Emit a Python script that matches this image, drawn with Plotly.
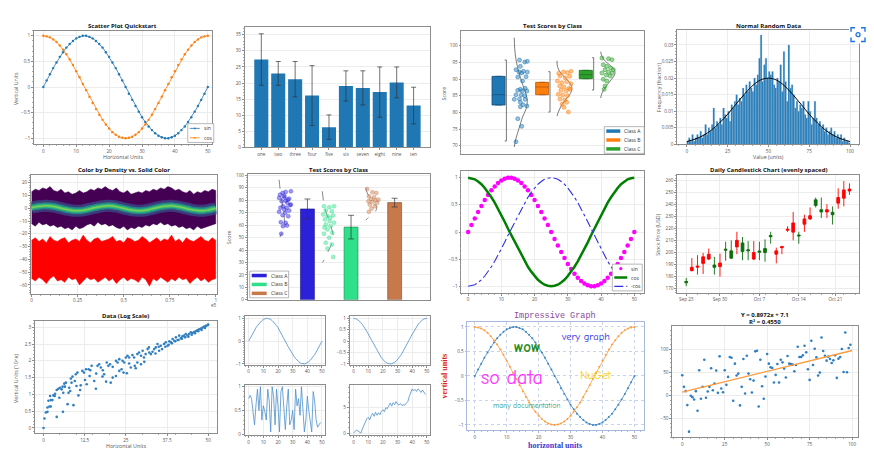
import plotly.graph_objects as go

W, H = 874, 466
FONT = "Open Sans"
BLUE = "#1f77b4"
ORANGE = "#ff7f0e"
GREEN = "#2ca02c"

# ---------------- data ----------------
X51 = list(range(51))
SIN = [0, 0.13, 0.25, 0.37, 0.48, 0.59, 0.68, 0.77, 0.84, 0.9, 0.95, 0.98, 1.0,
       1.0, 0.98, 0.95, 0.9, 0.84, 0.77, 0.68, 0.59, 0.48, 0.37, 0.25, 0.13, 0,
       -0.13, -0.25, -0.37, -0.48, -0.59, -0.68, -0.77, -0.84, -0.9, -0.95, -0.98, -1.0,
       -1.0, -0.98, -0.95, -0.9, -0.84, -0.77, -0.68, -0.59, -0.48, -0.37, -0.25, -0.13, 0]
COS = [1, 0.99, 0.97, 0.93, 0.88, 0.81, 0.73, 0.64, 0.54, 0.43, 0.31, 0.19, 0.06,
       -0.06, -0.19, -0.31, -0.43, -0.54, -0.64, -0.73, -0.81, -0.88, -0.93, -0.97, -0.99, -1,
       -0.99, -0.97, -0.93, -0.88, -0.81, -0.73, -0.64, -0.54, -0.43, -0.31, -0.19, -0.06,
       0.06, 0.19, 0.31, 0.43, 0.54, 0.64, 0.73, 0.81, 0.88, 0.93, 0.97, 0.99, 1]
NEG_COS = [-1, -0.99, -0.97, -0.93, -0.88, -0.81, -0.73, -0.64, -0.54, -0.43, -0.31, -0.19, -0.06,
           0.06, 0.19, 0.31, 0.43, 0.54, 0.64, 0.73, 0.81, 0.88, 0.93, 0.97, 0.99, 1,
           0.99, 0.97, 0.93, 0.88, 0.81, 0.73, 0.64, 0.54, 0.43, 0.31, 0.19, 0.06,
           -0.06, -0.19, -0.31, -0.43, -0.54, -0.64, -0.73, -0.81, -0.88, -0.93, -0.97, -0.99, -1]

BAR_NAMES = ["one", "two", "three", "four", "five", "six", "seven", "eight", "nine", "ten"]
BAR_VALUES = [27.3, 23.0, 21.2, 16.1, 6.3, 19.1, 18.5, 17.2, 20.2, 13.0]
BAR_ERRORS = [8.0, 3.7, 5.5, 9.3, 3.8, 4.7, 5.3, 7.8, 4.8, 5.7]

CLASS_NAMES = ["Class A", "Class B", "Class C"]
BOX_Q1 = [82.2, 85.3, 90.1]
BOX_MEDIAN = [85.3, 87.6, 91.3]
BOX_Q3 = [90.8, 89.0, 92.6]
BOX_LOW = [71.4, 80.1, 86.7]
BOX_HIGH = [95.7, 92.2, 96.4]

S3A_X = [0.48, 0.60, 0.66, 0.50, 0.40, 0.57, 0.66, 0.47, 0.53, 0.63, 0.44, 0.55, 0.50, 0.61, 0.44,
         0.54, 0.65, 0.40, 0.52, 0.60, 0.36, 0.48, 0.61, 0.50, 0.56, 0.65, 0.50, 0.44, 0.53, 0.40]
S3A_Y = [95.7, 95.1, 95.3, 93.8, 92.8, 92.3, 92.1, 92.1, 91.8, 90.7, 90.6, 89.4, 86.9, 87.2, 86.6,
         86.4, 86.4, 85.3, 85.2, 85.0, 83.9, 84.0, 83.9, 83.0, 82.3, 81.9, 81.7, 78.1, 75.8, 71.2]
S3B_X = [1.38, 1.49, 1.58, 1.66, 1.41, 1.53, 1.63, 1.35, 1.45, 1.56, 1.66, 1.40, 1.50, 1.61, 1.43,
         1.55, 1.64, 1.37, 1.47, 1.58, 1.41, 1.52, 1.46, 1.56, 1.50, 1.60]
S3B_Y = [91.7, 92.1, 91.9, 92.3, 90.9, 90.4, 90.8, 89.4, 88.9, 89.2, 88.6, 87.9, 87.6, 87.2, 86.6,
         86.4, 86.9, 85.4, 85.2, 85.0, 84.0, 83.7, 82.5, 83.0, 81.5, 80.1]
S3C_X = [2.37, 2.52, 2.60, 2.40, 2.48, 2.57, 2.63, 2.44, 2.52, 2.37, 2.60, 2.47, 2.56, 2.40, 2.48,
         2.44, 2.42]
S3C_Y = [96.3, 96.1, 95.8, 94.3, 93.8, 93.3, 92.8, 92.8, 92.1, 91.8, 91.8, 91.2, 90.9, 89.9, 89.4,
         87.9, 86.9]
C3A_X = [0.36, 0.37, 0.40, 0.47, 0.55, 0.63, 0.66, 0.63, 0.55, 0.47, 0.40, 0.36]
C3A_Y = [102.4, 99.2, 95.8, 91.8, 88.4, 85.4, 83.5, 81.0, 78.6, 75.2, 72.2, 69.6]
C3B_X = [1.34, 1.35, 1.40, 1.49, 1.60, 1.68, 1.66, 1.57, 1.46, 1.39, 1.34]
C3B_Y = [95.5, 93.8, 92.3, 90.9, 89.4, 87.6, 86.0, 84.3, 82.5, 80.7, 78.9]
C3C_X = [2.34, 2.37, 2.45, 2.56, 2.65, 2.67, 2.63, 2.54, 2.44, 2.37, 2.34]
C3C_Y = [98.2, 96.8, 95.3, 94.1, 92.8, 91.8, 90.6, 89.1, 87.4, 85.7, 84.3]

HIST_BINS = list(range(100))
HIST_FRAC = [0.001, 0.002, 0.001, 0.003, 0.001, 0.002, 0.003, 0.002, 0.004, 0.002,
             0.003, 0.006, 0.003, 0.005, 0.004, 0.006, 0.011, 0.005, 0.007, 0.006,
             0.008, 0.006, 0.011, 0.009, 0.008, 0.010, 0.007, 0.012, 0.011, 0.013,
             0.015, 0.012, 0.014, 0.013, 0.017, 0.015, 0.018, 0.016, 0.019, 0.017,
             0.016, 0.020, 0.018, 0.021, 0.026, 0.033, 0.019, 0.024, 0.026, 0.020,
             0.022, 0.021, 0.022, 0.018, 0.017, 0.020, 0.019, 0.024, 0.016, 0.028,
             0.019, 0.013, 0.030, 0.017, 0.018, 0.015, 0.011, 0.013, 0.010, 0.012,
             0.011, 0.013, 0.009, 0.008, 0.013, 0.010, 0.006, 0.008, 0.013, 0.008,
             0.006, 0.007, 0.005, 0.006, 0.004, 0.005, 0.003, 0.004, 0.005, 0.003,
             0.004, 0.002, 0.003, 0.002, 0.003, 0.001, 0.002, 0.001, 0.001, 0.0005]
FIT_X = list(range(0, 101, 5))
FIT_Y = [0.00088, 0.0016, 0.0027, 0.0043, 0.0065, 0.0091, 0.0121, 0.0150, 0.0176, 0.0194, 0.0200,
         0.0194, 0.0176, 0.0150, 0.0121, 0.0091, 0.0065, 0.0043, 0.0027, 0.0016, 0.00088]

DENS_X = list(range(0, 100001, 2000))
CENTER = [0.5, 1.1, 1.6, 1.9, 2.0, 1.8, 1.4, 0.8, 0.1, -0.6, -1.2, -1.7, -2.0, -1.9, -1.6, -1.0, -0.3,
          0.4, 1.0, 1.5, 1.9, 2.0, 1.8, 1.3, 0.7, 0.0, -0.7, -1.3, -1.7, -2.0, -1.9, -1.5, -0.9, -0.2,
          0.5, 1.1, 1.6, 1.9, 2.0, 1.7, 1.2, 0.6, -0.1, -0.8, -1.4, -1.8, -2.0, -1.8, -1.3, -0.7, 0.0]
PURPLE_TOP = [13, 15, 14, 16, 15, 17, 14, 13, 15, 12, 13, 11, 12, 14, 12, 13, 15, 14, 16, 15, 17, 15,
              14, 16, 13, 12, 14, 11, 12, 13, 12, 14, 13, 15, 14, 16, 15, 17, 16, 14, 15, 13, 12, 14,
              11, 13, 12, 14, 13, 15, 14]
PURPLE_BOT = [-12, -14, -11, -13, -12, -14, -13, -15, -14, -16, -15, -17, -14, -16, -15, -13, -12, -14,
              -11, -13, -12, -14, -13, -15, -16, -14, -17, -15, -16, -14, -15, -13, -14, -12, -13, -11,
              -13, -12, -14, -13, -15, -14, -16, -15, -17, -14, -16, -15, -14, -13, -12]
RED_TOP = [-25, -23, -26, -24, -27, -22, -25, -26, -24, -23, -27, -25, -24, -26, -21, -25, -27, -24,
           -23, -26, -25, -24, -22, -26, -25, -27, -23, -24, -26, -25, -22, -24, -27, -25, -23, -26,
           -24, -25, -21, -26, -24, -27, -23, -25, -26, -24, -22, -25, -26, -23, -25]
RED_BOT = [-55, -57, -54, -56, -59, -55, -53, -57, -56, -58, -54, -56, -55, -60, -57, -54, -56, -55,
           -58, -56, -54, -57, -55, -59, -56, -54, -57, -55, -56, -58, -54, -56, -61, -55, -57, -54,
           -56, -58, -55, -57, -54, -56, -55, -59, -56, -54, -57, -55, -58, -56, -55]

BAR6_VALUES = [73.0, 58.4, 78.1]
BAR6_ERRORS = [8.0, 9.5, 3.5]
S6A_X = [0.37, 0.43, 0.50, 0.62, 0.35, 0.47, 0.58, 0.41, 0.54, 0.62, 0.44, 0.35, 0.52, 0.58, 0.49,
         0.43, 0.56, 0.39, 0.50, 0.44, 0.53, 0.40, 0.47, 0.55, 0.38, 0.47, 0.60, 0.50]
S6A_Y = [84.5, 85.9, 86.7, 87.2, 81.9, 82.4, 81.3, 79.2, 77.9, 76.5, 75.2, 70.7, 73.9, 71.7, 69.9,
         68.0, 67.2, 62.4, 61.9, 59.2, 59.7, 53.1, 83.5, 80.5, 74.0, 72.5, 76.0, 79.5]
S6B_X = [1.38, 1.50, 1.61, 1.42, 1.56, 1.36, 1.46, 1.59, 1.40, 1.51, 1.61, 1.42, 1.53, 1.46, 1.57,
         1.38, 1.50, 1.42, 1.56, 1.46, 1.59, 1.52, 1.39]
S6B_Y = [75.2, 74.4, 75.2, 71.7, 71.2, 68.5, 67.2, 67.7, 64.5, 63.2, 61.9, 60.5, 59.2, 56.5, 53.9,
         53.1, 49.9, 45.9, 44.5, 41.3, 34.4, 66.0, 58.0]
S6C_X = [2.37, 2.49, 2.58, 2.41, 2.53, 2.63, 2.40, 2.49, 2.60, 2.43, 2.55, 2.47, 2.41, 2.56, 2.46]
S6C_Y = [89.0, 86.4, 85.9, 83.2, 82.4, 80.5, 79.2, 78.7, 77.9, 76.5, 75.2, 73.3, 70.7, 80.0, 81.0]
C6A_X = [0.35, 0.37, 0.40, 0.44, 0.47, 0.46, 0.41, 0.37]
C6A_Y = [96.5, 89.9, 81.9, 73.9, 65.9, 59.2, 53.9, 50.4]
C6B_X = [1.34, 1.37, 1.42, 1.50, 1.56, 1.59, 1.55, 1.46, 1.39, 1.34]
C6B_Y = [87.2, 79.2, 71.2, 63.2, 56.5, 51.2, 44.5, 37.9, 32.5, 29.9]
C6C_X = [2.34, 2.37, 2.44, 2.51, 2.59, 2.56, 2.47, 2.39, 2.34]
C6C_Y = [89.9, 85.9, 81.9, 77.9, 74.4, 71.2, 68.5, 65.9, 64.0]

CANDLE_DAYS = list(range(30))
CANDLE_OPEN = [174.4, 187.4, 188.5, 196.2, 198.4, 187.4, 191.0, 201.7, 195.1, 210.0,
               200.6, 201.2, 199.8, 200.0, 199.8, 213.0, 201.2, 204.8, 219.4, 224.6,
               213.6, 228.0, 230.7, 239.3, 233.8, 235.7, 231.5, 245.9, 252.3, 253.0]
CANDLE_HIGH = [178.5, 195.1, 197.6, 199.5, 203.1, 196.2, 198.9, 208.9, 210.0, 217.2,
               212.8, 209.4, 209.4, 208.9, 210.8, 217.2, 203.9, 205.4, 221.9, 233.8,
               217.2, 231.5, 237.6, 245.9, 245.9, 240.4, 238.5, 253.6, 259.7, 257.8]
CANDLE_LOW = [171.6, 184.0, 181.3, 181.8, 193.4, 181.3, 179.6, 192.9, 194.3, 198.4,
              193.4, 193.4, 193.4, 193.4, 192.1, 207.2, 190.7, 198.4, 217.2, 210.0,
              207.2, 217.2, 227.0, 237.6, 228.8, 228.8, 223.3, 236.5, 238.5, 248.1]
CANDLE_CLOSE = [175.5, 184.6, 187.6, 190.7, 194.3, 189.3, 188.0, 202.5, 201.2, 204.5,
                207.8, 202.0, 194.3, 201.0, 203.1, 214.0, 198.4, 203.9, 218.6, 216.9,
                214.3, 223.5, 228.0, 244.0, 235.7, 233.8, 233.5, 241.2, 245.4, 251.4]
CANDLE_TICKS = [0, 6, 13, 20, 26.5]
CANDLE_LABELS = ["Sep 23", "Sep 30", "Oct 7", "Oct 14", "Oct 21"]

LOG_X = [0, 0.3, 0.7, 1.2, 1.2, 1.8, 2.2, 1.5, 2.2, 2.7, 2.0, 3.0, 3.4, 4.0, 4.0, 4.5, 5.0, 5.5,
         4.8, 5.9, 5.8, 6.3, 6.8, 6.5, 7.3, 7.8, 8.1, 7.6, 8.3, 8.8, 8.5, 9.1, 9.8, 10.3, 9.5, 10.6,
         11.1, 11.3, 11.8, 12.3, 12.9, 12.6, 13.1, 13.7, 14.2, 14.6, 15.4, 15.9, 16.4, 16.9, 17.4,
         17.9, 18.4, 19.2, 19.7, 20.2, 20.4, 21.0, 22.0, 22.5, 23.0, 23.0, 23.7, 24.3, 25.0, 25.5,
         24.5, 25.3, 26.0, 27.0, 27.5, 26.5, 27.7, 28.5, 29.0, 29.6, 30.1, 29.6, 30.6, 31.6, 32.1,
         32.6, 33.1, 33.6, 34.1, 34.6, 35.1, 35.6, 36.6, 37.1, 37.7, 38.2, 38.7, 39.2, 39.7, 40.2,
         40.7, 41.2, 41.7, 42.2, 42.7, 43.2, 43.7, 44.2, 44.7, 45.2, 45.7, 46.3, 46.8, 47.3, 47.8,
         48.3, 48.8, 49.3, 49.8, 31.0, 32.0, 34.0, 35.0, 36.0, 37.0, 38.0, 39.0, 40.0, 41.0, 42.0,
         43.0, 44.0, 45.0, 46.0, 47.0, 48.0, 49.0, 50.0, 18.0, 21.0, 22.0, 26.0, 28.0, 14.0, 16.0,
         19.0, 24.0, 28.5, 30.5, 10.0, 6.0, 3.5]
LOG_Y = [0, 0.28, 0.46, 0.48, 0.61, 0.64, 0.64, 0.81, 0.83, 0.83, 0.95, 0.97, 0.95, 0.33, 1.13, 1.17,
         1.20, 1.15, 0.90, 0.48, 1.23, 1.32, 1.35, 1.23, 0.71, 1.20, 1.10, 1.05, 1.47, 1.53, 1.35, 0.68,
         1.60, 1.65, 1.40, 0.97, 1.13, 1.27, 1.70, 1.65, 1.75, 1.43, 1.30, 1.75, 1.72, 1.85, 1.40, 1.17,
         1.85, 1.90, 1.80, 1.53, 1.60, 1.95, 1.85, 1.90, 1.35, 1.50, 2.00, 1.95, 2.05, 1.70, 1.75, 1.65,
         2.10, 2.15, 1.95, 1.63, 2.10, 2.17, 2.10, 1.80, 1.85, 1.95, 2.25, 2.15, 2.30, 1.90, 1.97, 2.35,
         2.25, 2.20, 2.27, 2.35, 2.40, 2.50, 2.30, 2.45, 2.50, 2.55, 2.45, 2.58, 2.55, 2.65, 2.60, 2.70,
         2.62, 2.75, 2.67, 2.73, 2.75, 2.80, 2.75, 2.80, 2.85, 2.83, 2.86, 2.89, 2.92, 2.94, 2.96, 2.99,
         3.02, 3.04, 3.06, 2.20, 2.40, 2.22, 2.42, 2.35, 2.42, 2.48, 2.52, 2.58, 2.62, 2.66, 2.70, 2.72,
         2.78, 2.82, 2.88, 2.92, 2.98, 3.08, 1.72, 1.82, 1.55, 1.92, 1.78, 1.55, 1.62, 1.38, 2.00, 2.20,
         2.10, 1.25, 1.05, 1.02]

X50 = list(range(50))
RAND = [0.75, 0.82, 0.74, 0.4, 0.2, 0.62, 0.95, 0.5, 1.0, 0.3, 0.6, 0.48, 0.3, 0.95, 0.7, 0.05, 1.0,
        0.8, 0.2, 0.95, 0.6, 0.05, 0.9, 1.0, 0.4, 0.1, 0.6, 0.95, 0.2, 0.3, 0.5, 0.1, 0.95, 0.6, 0.75,
        0.4, 1.0, 0.6, 0.05, 0.3, 0.8, 0.5, 0.3, 0.05, 0.9, 0.7, 0.3, 0.15, 0.2, 0.25]
WALK = [0, 0.3, 0.6, 0.4, 0.1, 0, 0.8, 1.5, 2.2, 2.8, 3.1, 2.6, 3.4, 3.9, 3.3, 4.1, 3.5, 4.0, 3.6,
        4.3, 4.6, 4.2, 5.0, 4.8, 5.4, 5.9, 5.3, 6.0, 5.6, 6.2, 5.7, 5.5, 5.8, 5.4, 5.6, 5.5, 5.9, 6.2,
        7.2, 8.0, 8.7, 8.3, 8.6, 8.2, 8.7, 8.4, 8.0, 8.5, 8.1, 7.6]

REG_X = list(range(100))
REG_Y = [43.6, 18.6, 9.3, -20.7, -77.9, -0.7, -3.6, -8.6, 9.3, -32.9,
         54.3, -7.1, 18.6, 77.1, -5.0, 8.6, 18.6, 58.6, 11.4, 25.7,
         53.6, 5.7, 84.3, 15.0, 7.1, 54.3, 22.9, 40.0, 82.9, 81.4,
         -11.4, 68.6, 42.9, 47.1, -21.4, 18.6, 78.6, 4.3, 85.7, 47.1,
         35.0, 6.4, 32.1, 95.0, 96.4, -23.6, 77.1, 20.0, -7.1, 40.7,
         89.3, 68.6, 60.7, 59.3, 27.9, 44.3, 67.9, 27.9, 77.1, 71.4,
         57.9, 38.6, 85.0, 68.6, 67.9, 66.4, 52.1, 65.7, 105.0, 82.9,
         82.9, 86.4, 107.1, 92.9, 56.4, 33.6, 117.9, 65.7, 100.7, 82.1,
         42.9, 49.3, 125.0, 95.7, 85.7, 75.0, 83.6, 78.6, 70.0, 75.7,
         86.4, 37.9, 79.3, 82.9, 100.0, 50.7, 135.7, 50.0, 102.1, 109.3]
FIT_LINE_X = [0, 100]
FIT_LINE_Y = [7.1, 96.82]

# ---------------- helpers ----------------
fig = go.Figure()
layout_axes = {}
shapes = []
annotations = []


def px(x):
    return x / W


def py(y):
    return 1 - y / H


AXIS = dict(
    showline=True, linecolor="#8c8c8c", linewidth=0.8, mirror=True,
    ticks="outside", ticklen=2, tickwidth=0.6, tickcolor="#8c8c8c",
    showgrid=True, gridcolor="#ececec", gridwidth=0.6, zeroline=False,
    tickfont=dict(size=4.6, color="#555", family=FONT),
    minor=dict(ticks="outside", ticklen=1, tickcolor="#aaa", showgrid=False),
    fixedrange=True,
)


def axes(n, box, xr, yr, xkw=None, ykw=None):
    x0, y0, x1, y1 = box
    s = "" if n == 1 else str(n)
    xa = dict(AXIS, domain=[px(x0), px(x1)], range=xr, anchor="y" + s)
    ya = dict(AXIS, domain=[py(y1), py(y0)], range=yr, anchor="x" + s)
    xa.update(xkw or {})
    ya.update(ykw or {})
    layout_axes["xaxis" + s] = xa
    layout_axes["yaxis" + s] = ya
    return "x" + s, "y" + s


def text(t, x, y, size=5.5, color="#333", bold=False, angle=0, family=FONT, xanchor="center"):
    annotations.append(dict(
        text=f"<b>{t}</b>" if bold else t, x=px(x), y=py(y), xref="paper", yref="paper",
        showarrow=False, textangle=angle, xanchor=xanchor, yanchor="middle",
        font=dict(size=size, color=color, family=family)))


def legend(x0, y0, x1, y1, items, sample_w):
    shapes.append(dict(type="rect", xref="paper", yref="paper", x0=px(x0), x1=px(x1),
                       y0=py(y1), y1=py(y0), fillcolor="white",
                       line=dict(color="#888", width=0.6), layer="above"))
    row = (y1 - y0) / len(items)
    for k, it in enumerate(items):
        yc = y0 + row * (k + 0.5)
        if it.get("width"):
            shapes.append(dict(type="line", xref="paper", yref="paper",
                               x0=px(x0 + 2), x1=px(x0 + 2 + sample_w), y0=py(yc), y1=py(yc),
                               line=dict(color=it["color"], width=it["width"],
                                         dash=it.get("dash", "solid")), layer="above"))
        if it.get("dot"):
            cx, r = x0 + 2 + sample_w / 2, it["dot"]
            shapes.append(dict(type="circle", xref="paper", yref="paper",
                               x0=px(cx - r), x1=px(cx + r), y0=py(yc + r), y1=py(yc - r),
                               fillcolor=it["color"], line=dict(width=0), layer="above"))
        text(it["label"], x0 + 4 + sample_w, yc, size=5, color="#333", xanchor="left")


def rgba(hex_color, a):
    h = hex_color.lstrip("#")
    return f"rgba({int(h[0:2], 16)},{int(h[2:4], 16)},{int(h[4:6], 16)},{a})"


# ---------------- 1: scatter quickstart ----------------
xa, ya = axes(1, (33, 29, 211, 144), [-2.85, 51.2], [-1.12, 1.1], dict(dtick=10), dict(dtick=0.5))
for ys, c in ((SIN, BLUE), (COS, ORANGE)):
    fig.add_trace(go.Scatter(x=X51, y=ys, mode="lines+markers", line=dict(color=c, width=0.8),
                             marker=dict(size=2.4, color=c), xaxis=xa, yaxis=ya))
text("Scatter Plot Quickstart", 122, 24, size=6, color="#111", bold=True)
text("Horizontal Units", 122, 157, size=5.3, color="#555")
text("Vertical Units", 15, 87, size=5.3, color="#555", angle=-90)
legend(187, 123, 213, 142, [dict(label="sin", color=BLUE, width=0.8, dot=0.9),
                            dict(label="cos", color=ORANGE, width=0.8, dot=0.9)], 10)

# ---------------- 2: bars with error ----------------
xa, ya = axes(2, (244, 25, 429, 147), [-0.98, 9.94], [0, 37.5],
              dict(type="category", showgrid=False, minor=dict(ticks="")), dict(dtick=5))
fig.add_trace(go.Bar(x=BAR_NAMES, y=BAR_VALUES, width=0.83, marker=dict(color=BLUE, line=dict(width=0)),
                     error_y=dict(type="data", array=BAR_ERRORS, color="#333", thickness=0.7, width=2.5),
                     xaxis=xa, yaxis=ya))

# ---------------- 3: box + swarm ----------------
xa, ya = axes(3, (461, 29, 644, 154), [-0.85, 3.34], [67.4, 104.5],
              dict(showticklabels=False, showgrid=False, ticks="", minor=dict(ticks="")), dict(dtick=5))
colors3 = [BLUE, ORANGE, GREEN]
darks3 = ["#15527d", "#b35809", "#1e701e"]
swarm3 = [(S3A_X, S3A_Y, C3A_X, C3A_Y), (S3B_X, S3B_Y, C3B_X, C3B_Y), (S3C_X, S3C_Y, C3C_X, C3C_Y)]
for i in range(3):
    fig.add_trace(go.Box(x=[i], q1=[BOX_Q1[i]], median=[BOX_MEDIAN[i]], q3=[BOX_Q3[i]],
                         lowerfence=[BOX_Q1[i]], upperfence=[BOX_Q3[i]], width=0.3,
                         fillcolor=colors3[i], line=dict(color=darks3[i], width=0.8),
                         boxpoints=False, xaxis=xa, yaxis=ya))
    fig.add_trace(go.Scatter(x=[i + 0.14, i + 0.18, i + 0.18, i + 0.14],
                             y=[BOX_LOW[i], BOX_LOW[i], BOX_HIGH[i], BOX_HIGH[i]],
                             mode="lines", line=dict(color="#555", width=0.8), xaxis=xa, yaxis=ya))
    sx, sy, cx, cy = swarm3[i]
    fig.add_trace(go.Scatter(x=cx, y=cy, mode="lines", line=dict(color="#444", width=0.7, shape="spline"),
                             xaxis=xa, yaxis=ya))
    fig.add_trace(go.Scatter(x=sx, y=sy, mode="markers",
                             marker=dict(size=4, color=rgba(colors3[i], 0.45),
                                         line=dict(color=colors3[i], width=0.5)),
                             xaxis=xa, yaxis=ya))
text("Test Scores by Class", 552, 24, size=6, color="#111", bold=True)
text("Score", 444, 92, size=5.3, color="#555", angle=-90)
legend(604, 126, 644, 153, [dict(label=n, color=c, width=3.5) for n, c in zip(CLASS_NAMES, colors3)], 14)

# ---------------- 4: histogram ----------------
xa, ya = axes(4, (677, 28, 859, 144), [-5.9, 105.5], [0, 0.0346],
              dict(tickvals=[0, 25, 50, 75, 100]), dict(dtick=0.005))
fig.add_trace(go.Bar(x=HIST_BINS, y=HIST_FRAC, offset=0, width=1,
                     marker=dict(color=BLUE, line=dict(color="#8fb8de", width=0.3)), xaxis=xa, yaxis=ya))
fig.add_trace(go.Scatter(x=FIT_X, y=FIT_Y, mode="lines", line=dict(color="black", width=1, shape="spline"),
                         xaxis=xa, yaxis=ya))
text("Normal Random Data", 768, 24, size=6, color="#111", bold=True)
text("Value (units)", 768, 157, size=5.3, color="#555")
text("Frequency (fraction)", 659, 86, size=5.3, color="#555", angle=-90)

# ---------------- 5: density vs solid ----------------
xa, ya = axes(5, (30, 175, 216, 295), [-360, 100540], [-67, 26],
              dict(tickvals=[0, 25000, 50000, 75000, 100000], ticktext=["0", "0.25", "0.5", "0.75", "1"]),
              dict(dtick=10))
fig.add_trace(go.Scatter(x=DENS_X + DENS_X[::-1], y=PURPLE_TOP + PURPLE_BOT[::-1], fill="toself",
                         fillcolor="#440154", mode="lines", line=dict(color="#440154", width=0.5),
                         xaxis=xa, yaxis=ya))
for w, c in ((12, "rgba(59,82,139,0.7)"), (7, "rgba(33,145,140,0.85)"), (4, "#35b779"), (1.5, "#7ad151")):
    fig.add_trace(go.Scatter(x=DENS_X, y=CENTER, mode="lines", line=dict(color=c, width=w, shape="spline"),
                             xaxis=xa, yaxis=ya))
fig.add_trace(go.Scatter(x=DENS_X + DENS_X[::-1], y=RED_TOP + RED_BOT[::-1], fill="toself",
                         fillcolor="#ff0000", mode="lines", line=dict(color="#ff0000", width=0.5),
                         xaxis=xa, yaxis=ya))
text("Color by Density vs. Solid Color", 123, 170, size=6, color="#111", bold=True)
text("e5", 213, 306, size=4.6, color="#555")

# ---------------- 6: bars + swarm ----------------
xa, ya = axes(6, (247, 174, 429, 301), [-0.37, 3.8], [0, 101],
              dict(showticklabels=False, showgrid=False, ticks="", minor=dict(ticks="")), dict(dtick=10))
colors6 = ["#2b21d9", "#2ee08a", "#c7794b"]
darks6 = ["#1a1480", "#1a8a55", "#7a4a2e"]
swarm6 = [(S6A_X, S6A_Y, C6A_X, C6A_Y), (S6B_X, S6B_Y, C6B_X, C6B_Y), (S6C_X, S6C_Y, C6C_X, C6C_Y)]
fig.add_trace(go.Bar(x=[1, 2, 3], y=BAR6_VALUES, width=0.32,
                     marker=dict(color=colors6, line=dict(color=darks6, width=0.6)),
                     error_y=dict(type="data", array=BAR6_ERRORS, color="#333", thickness=0.7, width=3),
                     xaxis=xa, yaxis=ya))
for i in range(3):
    sx, sy, cx, cy = swarm6[i]
    fig.add_trace(go.Scatter(x=cx, y=cy, mode="lines",
                             line=dict(color="#555", width=0.7, dash="dash", shape="spline"),
                             xaxis=xa, yaxis=ya))
    fig.add_trace(go.Scatter(x=sx, y=sy, mode="markers",
                             marker=dict(size=4, color=rgba(colors6[i], 0.45),
                                         line=dict(color=rgba(colors6[i], 0.8), width=0.4)),
                             xaxis=xa, yaxis=ya))
text("Test Scores by Class", 338, 170, size=6, color="#111", bold=True)
text("Score", 229, 238, size=5.3, color="#555", angle=-90)
legend(249, 272, 288, 299, [dict(label=n, color=c, width=3.5) for n, c in zip(CLASS_NAMES, colors6)], 15)

# ---------------- 7: styled sin/cos ----------------
xa, ya = axes(7, (461, 171, 644, 294), [-2, 53], [-1.12, 1.12], dict(dtick=10), dict(dtick=0.5))
fig.add_trace(go.Scatter(x=X51, y=SIN, mode="markers", marker=dict(size=4.5, color="#ff00ff"),
                         xaxis=xa, yaxis=ya))
fig.add_trace(go.Scatter(x=X51, y=COS, mode="lines", line=dict(color="#008000", width=2.5),
                         xaxis=xa, yaxis=ya))
fig.add_trace(go.Scatter(x=X51, y=NEG_COS, mode="lines", line=dict(color="#3030e0", width=1.1, dash="dashdot"),
                         xaxis=xa, yaxis=ya))
legend(612, 265, 642, 292, [dict(label="sin", color="#ff00ff", dot=1.6),
                            dict(label="cos", color="#008000", width=2.5),
                            dict(label="-cos", color="#3030e0", width=1.1, dash="dashdot")], 13)

# ---------------- 8: candlesticks ----------------
xa, ya = axes(8, (677, 175, 859, 294), [-1.6, 30.7], [166, 264.7],
              dict(tickvals=CANDLE_TICKS, ticktext=CANDLE_LABELS, rangeslider=dict(visible=False)),
              dict(dtick=10))
fig.add_trace(go.Candlestick(x=CANDLE_DAYS, open=CANDLE_OPEN, high=CANDLE_HIGH, low=CANDLE_LOW,
                             close=CANDLE_CLOSE, whiskerwidth=0,
                             increasing=dict(line=dict(color="#0c6e0c", width=0.9), fillcolor="#0c6e0c"),
                             decreasing=dict(line=dict(color="#ff0000", width=0.9), fillcolor="#ff0000"),
                             xaxis=xa, yaxis=ya))
text("Daily Candlestick Chart (evenly spaced)", 768, 170, size=6, color="#111", bold=True)
text("Stock Price (USD)", 658, 235, size=5.3, color="#555", angle=-90)

# ---------------- 9: log scale scatter ----------------
xa, ya = axes(9, (34, 322, 216, 436), [-2.6, 52.6], [-0.16, 3.2],
              dict(tickvals=[0, 12.5, 25, 37.5, 50]), dict(dtick=0.5))
fig.add_trace(go.Scatter(x=LOG_X, y=LOG_Y, mode="markers", marker=dict(size=2.6, color="#2f7fc1"),
                         xaxis=xa, yaxis=ya))
text("Data (Log Scale)", 125, 317, size=6, color="#111", bold=True)
text("Horizontal Units", 125, 449, size=5.3, color="#555")
text("Vertical Units (10^x)", 15, 380, size=5.3, color="#555", angle=-90)

# ---------------- 10: four small plots ----------------
small = [
    (10, (244, 317, 324, 367), [-1.05, 1.12], dict(tickvals=[-1, 0, 1]), X51, SIN),
    (11, (349, 317, 429, 367), [-1.05, 1.12], dict(dtick=0.5), X51, COS),
    (12, (244, 387, 324, 438), [-0.02, 1.04], dict(dtick=0.5), X50, RAND),
    (13, (349, 387, 429, 438), [-0.45, 9.5], dict(dtick=5), X50, WALK),
]
for n, box, yr, ykw, xs, ys in small:
    xa, ya = axes(n, box, [-2.7, 51.8], yr, dict(dtick=10), ykw)
    fig.add_trace(go.Scatter(x=xs, y=ys, mode="lines", line=dict(color="#4b8fcb", width=0.8),
                             xaxis=xa, yaxis=ya))

# ---------------- 11: impressive graph ----------------
fancy = dict(linecolor="#a9b9dd", tickcolor="#a9b9dd", gridcolor="#c9d3ee", griddash="dot",
             minor=dict(ticks="outside", ticklen=1, tickcolor="#a9b9dd", showgrid=False))
xa, ya = axes(14, (467, 323, 644, 433), [-2.3, 53.1], [-1.11, 1.11],
              dict(fancy, dtick=10), dict(fancy, dtick=0.5))
fig.add_trace(go.Scatter(x=X51, y=SIN, mode="lines+markers", line=dict(color="#3b86c2", width=0.8),
                         marker=dict(size=2, color="#3b86c2"), xaxis=xa, yaxis=ya))
fig.add_trace(go.Scatter(x=X51, y=COS, mode="lines+markers", line=dict(color="#ff9a3c", width=0.8),
                         marker=dict(size=2, color="#ff9a3c"), xaxis=xa, yaxis=ya))
COMIC = "Comic Sans MS, Comic Neue, Lato"
for t, x, y, s, c in (("wow", 16.2, 0.59, 15, "#1e8c1e"), ("very graph", 34.6, 0.79, 10.5, "#2a2ae0"),
                      ("so data", 11.7, -0.04, 20, "#ff33ff"), ("NuGet", 37.9, 0.0, 11.5, "#f5cc1a"),
                      ("many documentation", 16.1, -0.61, 7.5, "#2a9a86")):
    annotations.append(dict(text=f"<b>{t}</b>" if t == "wow" else t, x=x, y=y, xref=xa, yref=ya,
                            showarrow=False, font=dict(size=s, color=c, family=COMIC)))
text("Impressive Graph", 555, 317, size=8.5, color="#8a4a9a", family="Liberation Mono")
text("horizontal units", 555, 448, size=8, color="#3a3ad0", bold=True, family="Liberation Serif")
text("vertical units", 444, 378, size=8, color="#e02020", bold=True, family="Liberation Serif", angle=-90)

# ---------------- 12: regression ----------------
xa, ya = axes(15, (672, 328, 858, 440), [-5.9, 103.5], [-90, 148.6], dict(dtick=25), dict(dtick=50))
fig.add_trace(go.Scatter(x=REG_X, y=REG_Y, mode="markers", marker=dict(size=2.6, color="#2f7fc1"),
                         xaxis=xa, yaxis=ya))
fig.add_trace(go.Scatter(x=FIT_LINE_X, y=FIT_LINE_Y, mode="lines", line=dict(color="#ff9a3c", width=1.4),
                         xaxis=xa, yaxis=ya))
text("Y = 0.8972x + 7.1", 765, 316, size=6, color="#111", bold=True)
text("R² = 0.4550", 765, 323.5, size=6, color="#111", bold=True)

# ---------------- screenshot overlay icon (top right) ----------------
LENS = "#1a73e8"
shapes.append(dict(type="rect", xref="paper", yref="paper", x0=px(849), x1=px(867), y0=py(42), y1=py(24),
                   fillcolor="white", line=dict(width=0), layer="above"))
for path in (f"M{px(851)},{py(30)} L{px(851)},{py(26)} L{px(855)},{py(26)}",
             f"M{px(861)},{py(26)} L{px(865)},{py(26)} L{px(865)},{py(30)}",
             f"M{px(851)},{py(36)} L{px(851)},{py(40)} L{px(855)},{py(40)}",
             f"M{px(861)},{py(40)} L{px(865)},{py(40)} L{px(865)},{py(36)}"):
    shapes.append(dict(type="path", xref="paper", yref="paper", path=path,
                       line=dict(color=LENS, width=1.4), layer="above"))
shapes.append(dict(type="circle", xref="paper", yref="paper", x0=px(856), x1=px(860), y0=py(35), y1=py(31),
                   line=dict(color=LENS, width=1.3), layer="above"))

fig.update_layout(
    width=W, height=H, autosize=False,
    margin=dict(l=0, r=0, t=0, b=0, pad=0),
    paper_bgcolor="white", plot_bgcolor="white",
    showlegend=False, font=dict(family=FONT),
    shapes=shapes, annotations=annotations,
    **layout_axes,
)

# the page body has a default margin; drop it so the figure sits at the window's corner
fig.write_html("out.html", config={"displayModeBar": False},
               post_script="document.body.style.margin='0';document.body.style.overflow='hidden';")
